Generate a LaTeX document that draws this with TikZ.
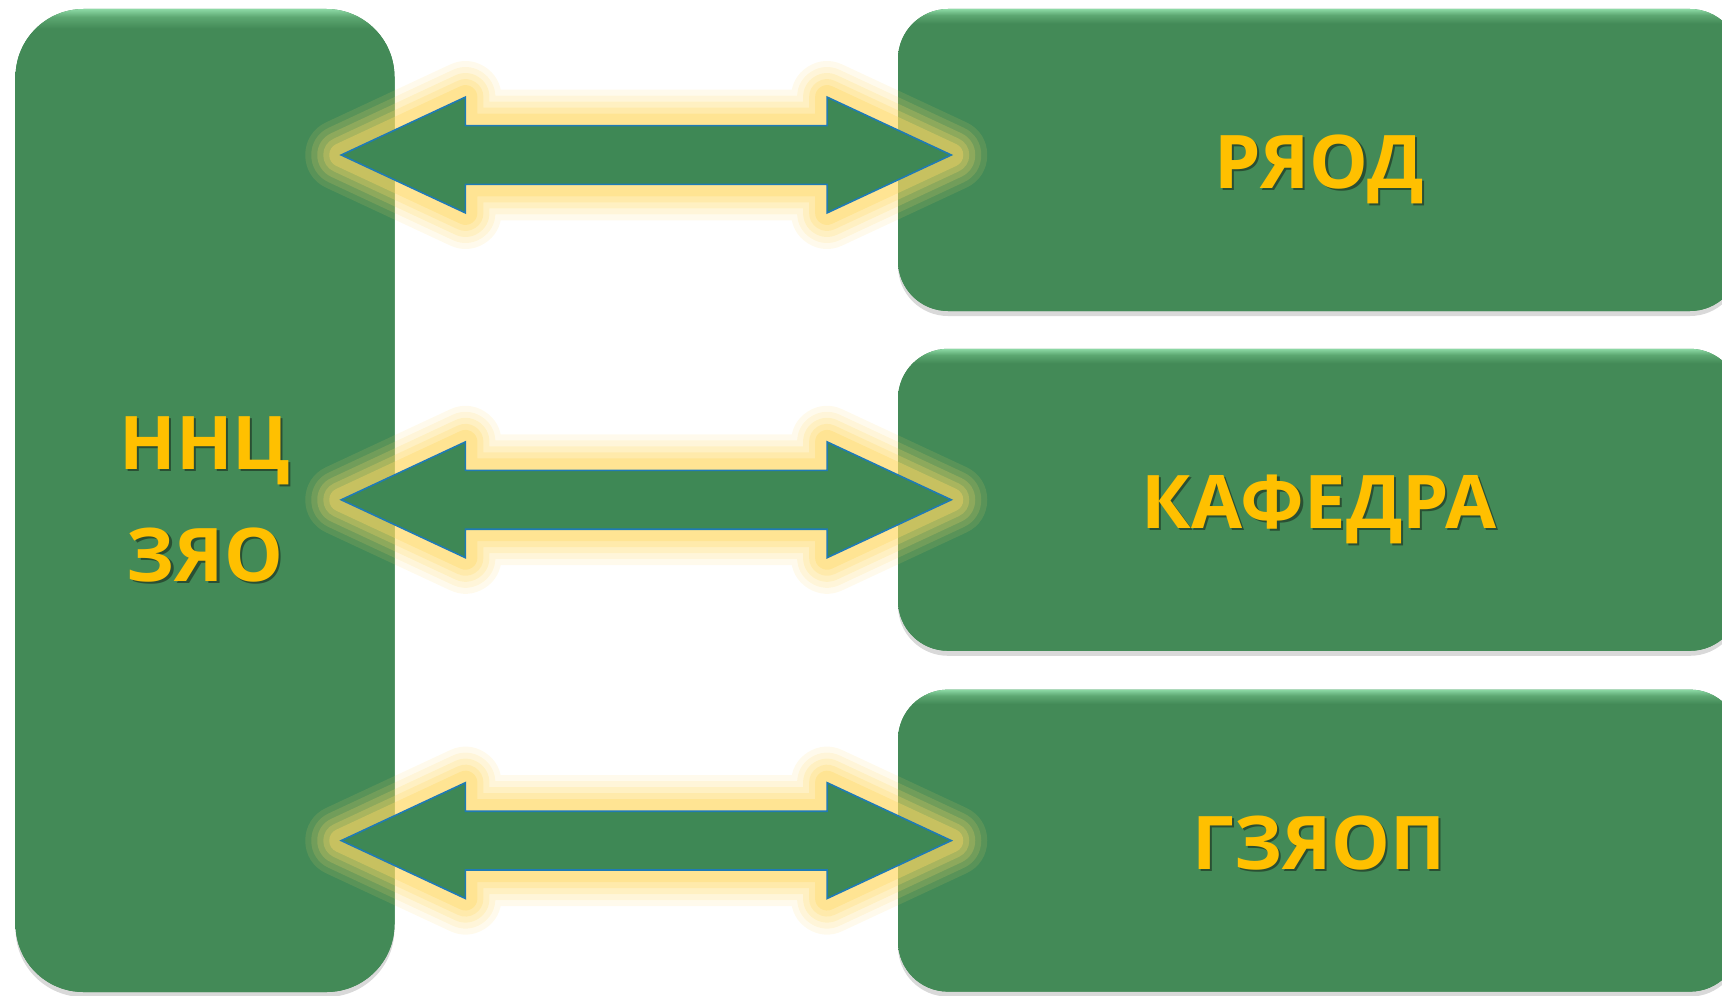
\documentclass[tikz,border=0pt]{standalone}
\usepackage{fontspec}
\setmainfont{Open Sans}
\usepackage{tikz}
\usetikzlibrary{shapes.arrows}
\usetikzlibrary{shadows}
\usetikzlibrary{positioning,calc}

\definecolor{boxgreen}{HTML}{438A57}
\definecolor{midgreen}{HTML}{5DA872}
\definecolor{topgreen}{HTML}{8CD9A5}
\definecolor{arrowgreen}{HTML}{3E8855}
\definecolor{arrowline}{HTML}{1F7BB5}
\definecolor{glowyellow}{HTML}{FFD966}
\definecolor{labelgold}{HTML}{FFC000}
\definecolor{labelshade}{HTML}{2A4F33}

\pgfdeclareverticalshading{tallshade}{100bp}{color(0bp)=(boxgreen); color(74bp)=(boxgreen);
  color(74.6bp)=(midgreen); color(75bp)=(topgreen); color(100bp)=(topgreen)}
\pgfdeclareverticalshading{flatshade}{100bp}{color(0bp)=(boxgreen); color(72.6bp)=(boxgreen);
  color(74bp)=(midgreen); color(75bp)=(topgreen); color(100bp)=(topgreen)}

\newcommand{\shadowed}[1]{\makebox[0pt][l]{\kern1.1pt\raisebox{-1.1pt}{\color{labelshade}#1}}#1}

\begin{document}
\begin{tikzpicture}[x=0.5pt, y=-0.5pt,
  block/.style={rounded corners=25pt, fill=boxgreen, text=labelgold,
    font=\fontsize{37}{56}\selectfont\bfseries, align=center,
    drop shadow={shadow xshift=0pt, shadow yshift=-2.5pt, opacity=0.3}},
  bigblock/.style={block, shade, shading=tallshade, rounded corners=34pt,
    minimum width=189.5pt, minimum height=491.5pt},
  smallblock/.style={block, shade, shading=flatshade, minimum width=421pt, minimum height=151pt,
    text height=28.4pt, text depth=0pt},
  link/.style={double arrow, fill=arrowgreen, draw=arrowline, line width=0.8pt,
    minimum height=305pt, minimum width=57.5pt, double arrow head extend=14.25pt,
    double arrow tip angle=50, inner xsep=0pt, inner ysep=14.3pt,
    preaction={draw=glowyellow, draw opacity=0.12, line width=36pt, line join=round},
    preaction={draw=glowyellow, draw opacity=0.15, line width=30pt, line join=round},
    preaction={draw=glowyellow, draw opacity=0.2, line width=24pt, line join=round},
    preaction={draw=glowyellow, draw opacity=0.25, line width=18pt, line join=round},
    preaction={draw=glowyellow, draw opacity=0.35, line width=12pt, line join=round}}
]
\useasboundingbox (0,0) rectangle (1722,995);
%%% centre on the left %%%

      \node[bigblock] (nnc) at (205,500.5) {\shadowed{ННЦ}\\\shadowed{ЗЯО}};

%%% partners on the right %%%
      \node[smallblock] (ryod) at (1319,160) {\shadowed{РЯОД}};
      %%
      \node[smallblock, below=18.5pt of ryod] (kafedra) {\shadowed{КАФЕДРА}};
      %%
      \node[smallblock, below=19pt of kafedra] (gzyaop) {\shadowed{ГЗЯОП}};

%%% two-way links %%%
      \node[link, yshift=2.5pt] (l1) at ($(nnc.east |- ryod.center)!0.5!(ryod.west)$) {};
      %%
      \node[link] (l2) at ($(nnc.east |- kafedra.center)!0.5!(kafedra.west)$) {};
      %%
      \node[link] (l3) at ($(nnc.east |- gzyaop.center)!0.5!(gzyaop.west)$) {};

\end{tikzpicture}
\end{document}
